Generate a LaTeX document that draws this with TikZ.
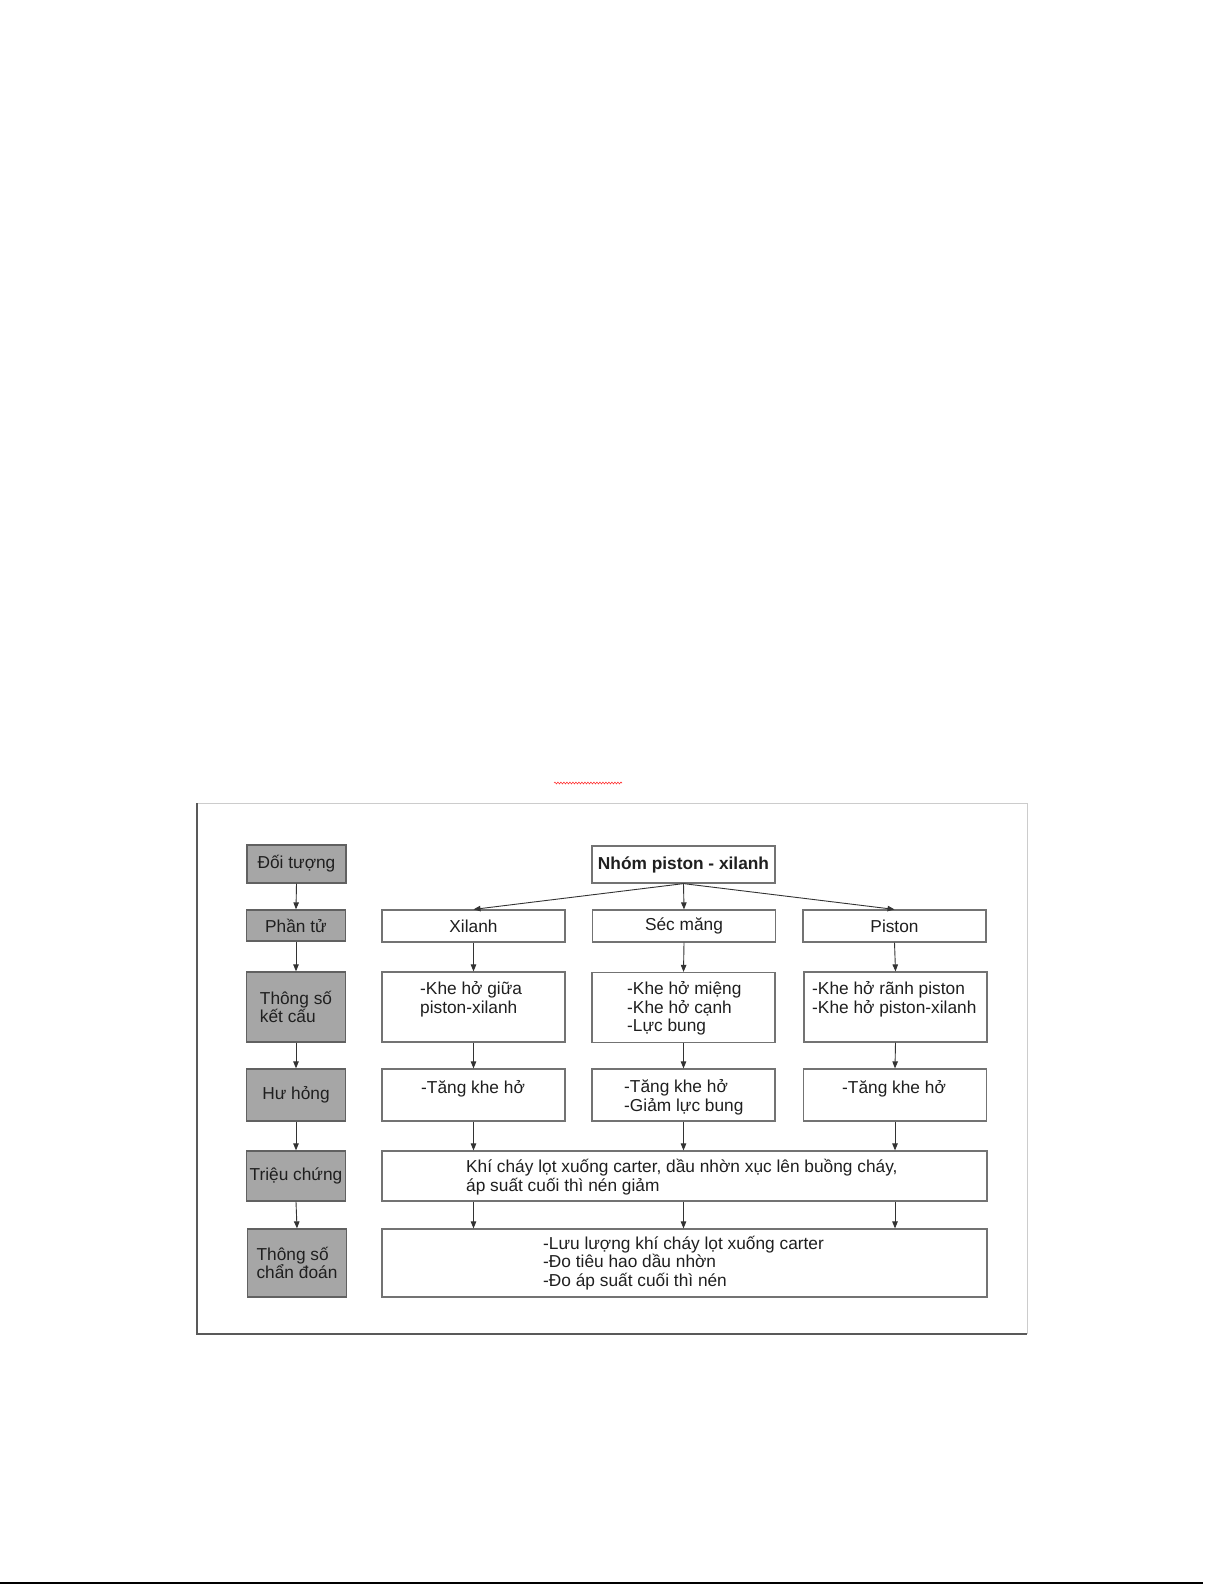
\documentclass[tikz,border=0pt]{standalone}
\usepackage{fontspec}
\setmainfont{Liberation Sans}
\usetikzlibrary{arrows.meta, calc, positioning, decorations.pathmorphing}

\begin{document}
\begin{tikzpicture}[x=1pt, y=-1pt,
  font=\fontsize{17.3}{18.4}\selectfont,
  catbox/.style={draw=black!62, fill=black!35, line width=1.3pt, minimum width=99pt, inner sep=0pt, align=left, text=black!88},
  itembox/.style={draw=black!55, fill=white, line width=1.2pt, minimum width=183pt, inner sep=0pt, text=black!88},
  widebox/.style={itembox, minimum width=605pt},
  boxtext/.style={anchor=base west, inner sep=0pt, align=left, text=black!88},
  flow/.style={-{Triangle[length=7pt, width=5.5pt]}, draw=black!80, line width=0.9pt},
]
\useasboundingbox (0,0) rectangle (1225,1585);

% frame of the scanned figure
\draw[black!20, line width=1pt] (197,803) -- (1027,803) -- (1027,1334);
\draw[black!65, line width=1.5pt] (197,803) -- (197,1334) -- (1027,1334);
\draw[red!80, line width=0.6pt, decorate, decoration={snake, amplitude=0.9pt, segment length=3pt}] (554,783) -- (622,783);
\draw[black, line width=2pt] (0,1583) -- (1203,1583);

% left column
\node[catbox, minimum height=38pt] (obj)   at (296.5,864)  {Đối tượng};
\node[catbox, minimum height=31pt] (part)  at (296,925.5)  {Phần tử};
\node[catbox, minimum height=70pt] (param) at (296,1007)   {Thông số\\kết cấu};
\node[catbox, minimum height=52pt] (fault) at (296,1095)   {Hư hỏng};
\node[catbox, minimum height=50pt] (symp)  at (296,1176)   {Triệu chứng};
\node[catbox, minimum height=68pt] (diag)  at (297,1263)   {Thông số\\chẩn đoán};

\foreach \a/\b in {obj/part, part/param, param/fault, fault/symp, symp/diag}
  \draw[flow] (\a.south) -- (\b.north);

% group and parts
\node[itembox, minimum height=37pt, font=\fontsize{17.3}{18.4}\selectfont\bfseries] (group) at (683.5,864.5) {Nhóm piston - xilanh};
\node[itembox, minimum height=32pt] (xil) at (473.5,926) {Xilanh};
\node[itembox, minimum height=32pt] (sec) at (684,926)   {Séc măng};
\node[itembox, minimum height=32pt] (pis) at (894.5,926) {Piston};

% structural parameters (text placed at its last baseline)
\node[itembox, minimum height=70pt] (xk) at (473.5,1007) {};
\node[itembox, minimum height=70pt] (sk) at (683.5,1007.5) {};
\node[itembox, minimum height=70pt] (pk) at (895.5,1007) {};
\node[boxtext] (xktext) at (420,1013) {-Khe hở giữa\\piston-xilanh};
\node[boxtext] (sktext) at (627,1031.5) {-Khe hở miệng\\-Khe hở cạnh\\-Lực bung};
\node[boxtext] (pktext) at (812,1013) {-Khe hở rãnh piston\\-Khe hở piston-xilanh};

% faults
\node[itembox, minimum height=52pt] (xf) at (473.5,1095) {};
\node[itembox, minimum height=52pt] (sf) at (683.5,1095) {};
\node[itembox, minimum height=52pt] (pf) at (895,1095) {};
\node[boxtext] (xftext) at (421,1093) {-Tăng khe hở};
\node[boxtext] (sftext) at (624,1111) {-Tăng khe hở\\-Giảm lực bung};
\node[boxtext] (pftext) at (842,1093) {-Tăng khe hở};

% symptoms and diagnosis
\node[widebox, minimum height=50pt] (sym) at (684.5,1176) {};
\node[boxtext] (symtext) at (466,1191) {Khí cháy lọt xuống carter, dầu nhờn xục lên buồng cháy,\\áp suất cuối thì nén giảm};
\node[widebox, minimum height=68pt] (dia) at (684.5,1263) {};
\node[boxtext] (diatext) at (543,1286) {-Lưu lượng khí cháy lọt xuống carter\\-Đo tiêu hao dầu nhờn\\-Đo áp suất cuối thì nén};

% connectors
\foreach \b in {xil, sec, pis}
  \draw[flow] (group.south) -- (\b.north);
\foreach \a/\b in {xil/xk, sec/sk, pis/pk, xk/xf, sk/sf, pk/pf}
  \draw[flow] (\a.south) -- (\b.north);
\foreach \a in {xf, sf, pf}
  \draw[flow] (\a.south) -- (sym.north -| \a.south);
\foreach \a in {xf, sf, pf}
  \draw[flow] (sym.south -| \a.south) -- (dia.north -| \a.south);

\end{tikzpicture}
\end{document}
